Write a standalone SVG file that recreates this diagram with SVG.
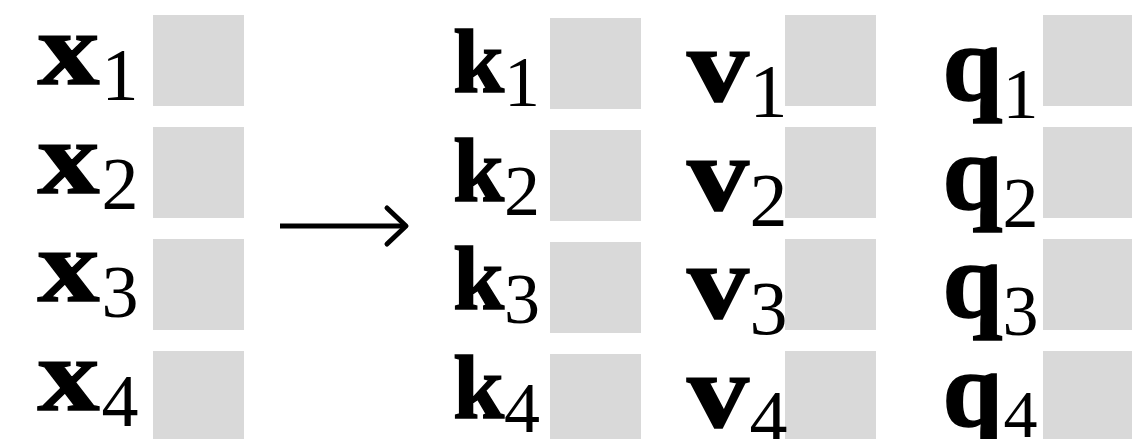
<svg xmlns="http://www.w3.org/2000/svg" width="1132" height="439" viewBox="0 0 1132 439">
<style>
.box{fill:#d9d9d9}
.let{font-family:"Liberation Serif","Times New Roman",serif;font-weight:bold;fill:#000;stroke:#000;stroke-width:1.4;text-anchor:middle}
.sub{font-family:"Liberation Serif","Times New Roman",serif;font-weight:normal;fill:#000;text-anchor:middle}
.arr{fill:none;stroke:#000;stroke-width:5}
</style>
<defs>
<marker id="head" viewBox="-24 -22 28 44" markerWidth="28" markerHeight="44" refX="0" refY="0" markerUnits="userSpaceOnUse" orient="auto" overflow="visible">
<path d="M -19 -18 L 0 0 L -19 18" fill="none" stroke="#000" stroke-width="5" stroke-linecap="round" stroke-linejoin="round"/>
</marker>
</defs>
<rect width="1132" height="439" fill="#fff"/>
<g id="x1"><rect class="box" x="153" y="15" width="91" height="91"/><text class="let" x="68.5" y="84" font-size="103" textLength="62" lengthAdjust="spacingAndGlyphs">x</text><text class="sub" x="120" y="100" font-size="74">1</text></g>
<g id="x2"><rect class="box" x="153" y="127" width="91" height="91"/><text class="let" x="68.5" y="192.7" font-size="103" textLength="62" lengthAdjust="spacingAndGlyphs">x</text><text class="sub" x="120" y="208.7" font-size="74">2</text></g>
<g id="x3"><rect class="box" x="153" y="239" width="91" height="91"/><text class="let" x="68.5" y="301.3" font-size="103" textLength="62" lengthAdjust="spacingAndGlyphs">x</text><text class="sub" x="120" y="317.3" font-size="74">3</text></g>
<g id="x4"><rect class="box" x="153" y="351" width="91" height="91"/><text class="let" x="68.5" y="410" font-size="103" textLength="62" lengthAdjust="spacingAndGlyphs">x</text><text class="sub" x="120" y="426" font-size="74">4</text></g>
<g id="k1"><rect class="box" x="550" y="18" width="91" height="91"/><text class="let" x="478.5" y="92" font-size="92">k</text><text class="sub" x="522" y="106" font-size="72">1</text></g>
<g id="k2"><rect class="box" x="550" y="130" width="91" height="91"/><text class="let" x="478.5" y="200.7" font-size="92">k</text><text class="sub" x="522" y="214.7" font-size="72">2</text></g>
<g id="k3"><rect class="box" x="550" y="242" width="91" height="91"/><text class="let" x="478.5" y="309.3" font-size="92">k</text><text class="sub" x="522" y="323.3" font-size="72">3</text></g>
<g id="k4"><rect class="box" x="550" y="354" width="91" height="91"/><text class="let" x="478.5" y="418" font-size="92">k</text><text class="sub" x="522" y="432" font-size="72">4</text></g>
<g id="v1"><rect class="box" x="785" y="15" width="91" height="91"/><text class="let" x="718" y="101" font-size="105" textLength="62" lengthAdjust="spacingAndGlyphs">v</text><text class="sub" x="768.5" y="117" font-size="76">1</text></g>
<g id="v2"><rect class="box" x="785" y="127" width="91" height="91"/><text class="let" x="718" y="209.7" font-size="105" textLength="62" lengthAdjust="spacingAndGlyphs">v</text><text class="sub" x="768.5" y="225.7" font-size="76">2</text></g>
<g id="v3"><rect class="box" x="785" y="239" width="91" height="91"/><text class="let" x="718" y="318.3" font-size="105" textLength="62" lengthAdjust="spacingAndGlyphs">v</text><text class="sub" x="768.5" y="334.3" font-size="76">3</text></g>
<g id="v4"><rect class="box" x="785" y="351" width="91" height="91"/><text class="let" x="718" y="427" font-size="105" textLength="62" lengthAdjust="spacingAndGlyphs">v</text><text class="sub" x="768.5" y="443" font-size="76">4</text></g>
<g id="q1"><rect class="box" x="1043" y="15" width="91" height="91"/><text class="let" x="972.5" y="100" font-size="108">q</text><text class="sub" x="1020.5" y="118" font-size="72">1</text></g>
<g id="q2"><rect class="box" x="1043" y="127" width="91" height="91"/><text class="let" x="972.5" y="208.7" font-size="108">q</text><text class="sub" x="1020.5" y="226.7" font-size="72">2</text></g>
<g id="q3"><rect class="box" x="1043" y="239" width="91" height="91"/><text class="let" x="972.5" y="317.3" font-size="108">q</text><text class="sub" x="1020.5" y="335.3" font-size="72">3</text></g>
<g id="q4"><rect class="box" x="1043" y="351" width="91" height="91"/><text class="let" x="972.5" y="426" font-size="108">q</text><text class="sub" x="1020.5" y="437" font-size="68">4</text></g>
<g id="connectors"><path class="arr" d="M 280 226 L 406 226" marker-end="url(#head)"/></g>
</svg>
